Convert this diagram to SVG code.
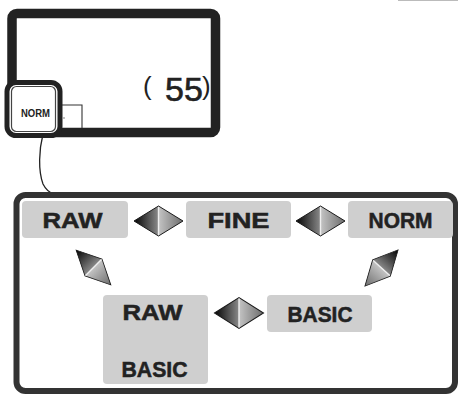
<svg xmlns="http://www.w3.org/2000/svg" xmlns:xlink="http://www.w3.org/1999/xlink" width="458" height="395" viewBox="0 0 458 395">
<style>
.lbl{font-family:"Liberation Sans",Arial,sans-serif;font-weight:bold;font-size:21.5px;fill:#222;stroke:#222;stroke-width:0.5;text-anchor:middle}
.box{fill:#cfcfcf}
.lcd{font-family:"Liberation Sans",Arial,sans-serif;fill:#222}
</style>
<defs>
<linearGradient id="gl" gradientUnits="userSpaceOnUse" x1="-25" y1="0" x2="0" y2="0">
<stop offset="0" stop-color="#000"/><stop offset="1" stop-color="#8a8a8a"/>
</linearGradient>
<linearGradient id="gr" gradientUnits="userSpaceOnUse" x1="0" y1="0" x2="25" y2="0">
<stop offset="0" stop-color="#c4c4c4"/><stop offset="1" stop-color="#6a6a6a"/>
</linearGradient>
<g id="arr">
<path d="M-24.5,0 L0,-15 L0,15 Z" fill="url(#gl)"/>
<path d="M0,-15 L24.5,0 L0,15 Z" fill="url(#gr)"/>
<path d="M-24.5,0 L0,-15 L24.5,0 L0,15 Z" fill="none" stroke="#1a1a1a" stroke-width="1" stroke-linejoin="miter"/>
<line x1="0" y1="-14" x2="0" y2="14" stroke="#eee" stroke-width="1.4"/>
</g>
</defs>
<rect width="458" height="395" fill="#fff"/>
<line x1="398" y1="0.5" x2="458" y2="0.5" stroke="#bbb" stroke-width="1.2"/>

<g id="lcd">
<rect x="12" y="13.5" width="203.5" height="119" rx="5" fill="#fff" stroke="#222" stroke-width="9.5"/>
<text class="lcd"><tspan x="143" y="95" font-size="26">(</tspan><tspan x="165" y="101" font-size="34" stroke="#222" stroke-width="0.6">55</tspan><tspan x="202" y="95" font-size="26">)</tspan></text>
<path d="M62,105 H82 V128" fill="none" stroke="#333" stroke-width="1.1"/>
<circle cx="64" cy="118" r="0.7" fill="#555"/>
</g>

<g id="norm-indicator">
<rect x="7" y="82.5" width="53" height="53" rx="9" fill="#fff" stroke="#222" stroke-width="5"/>
<rect x="11.5" y="86.5" width="44" height="45" rx="5" fill="#fff" stroke="#444" stroke-width="1.2"/>
<text x="35.5" y="117" font-family="Liberation Sans,Arial,sans-serif" font-weight="bold" font-size="11" fill="#222" text-anchor="middle" textLength="29" lengthAdjust="spacingAndGlyphs">NORM</text>
</g>

<g id="connectors">
<path d="M43,134 C39,150 38,170 43,184 Q47,192 54,194" fill="none" stroke="#222" stroke-width="1.3"/>
<use xlink:href="#arr" href="#arr" transform="translate(158.5,221)"/>
<use xlink:href="#arr" href="#arr" transform="translate(320.5,221)"/>
<use xlink:href="#arr" href="#arr" transform="translate(239,313) scale(1,1.03)"/>
<use xlink:href="#arr" href="#arr" transform="translate(93.5,267.5) rotate(45) scale(1,0.8)"/>
<use xlink:href="#arr" href="#arr" transform="translate(381.5,268) rotate(132.5) scale(1,0.8)"/>
</g>

<g id="panel">
<rect x="16.5" y="195" width="438.5" height="196" rx="9" fill="none" stroke="#333" stroke-width="6"/>
</g>

<g id="raw">
<rect class="box" x="22" y="201" width="106" height="37" rx="4"/>
<text class="lbl" x="72.5" y="228" textLength="60" lengthAdjust="spacingAndGlyphs">RAW</text>
</g>
<g id="fine">
<rect class="box" x="186" y="201" width="105" height="37" rx="4"/>
<text class="lbl" x="238.5" y="228" textLength="62" lengthAdjust="spacingAndGlyphs">FINE</text>
</g>
<g id="norm">
<rect class="box" x="348" y="201" width="105" height="37" rx="4"/>
<text class="lbl" x="400.5" y="228" textLength="64" lengthAdjust="spacingAndGlyphs">NORM</text>
</g>
<g id="raw-basic">
<rect class="box" x="103" y="295" width="105" height="89" rx="4"/>
<text class="lbl" x="152.5" y="320" textLength="60" lengthAdjust="spacingAndGlyphs">RAW</text>
<text class="lbl" x="154.5" y="377" textLength="66" lengthAdjust="spacingAndGlyphs">BASIC</text>
</g>
<g id="basic">
<rect class="box" x="267" y="295" width="105" height="37" rx="4"/>
<text class="lbl" x="320" y="322" textLength="65" lengthAdjust="spacingAndGlyphs">BASIC</text>
</g>
</svg>
